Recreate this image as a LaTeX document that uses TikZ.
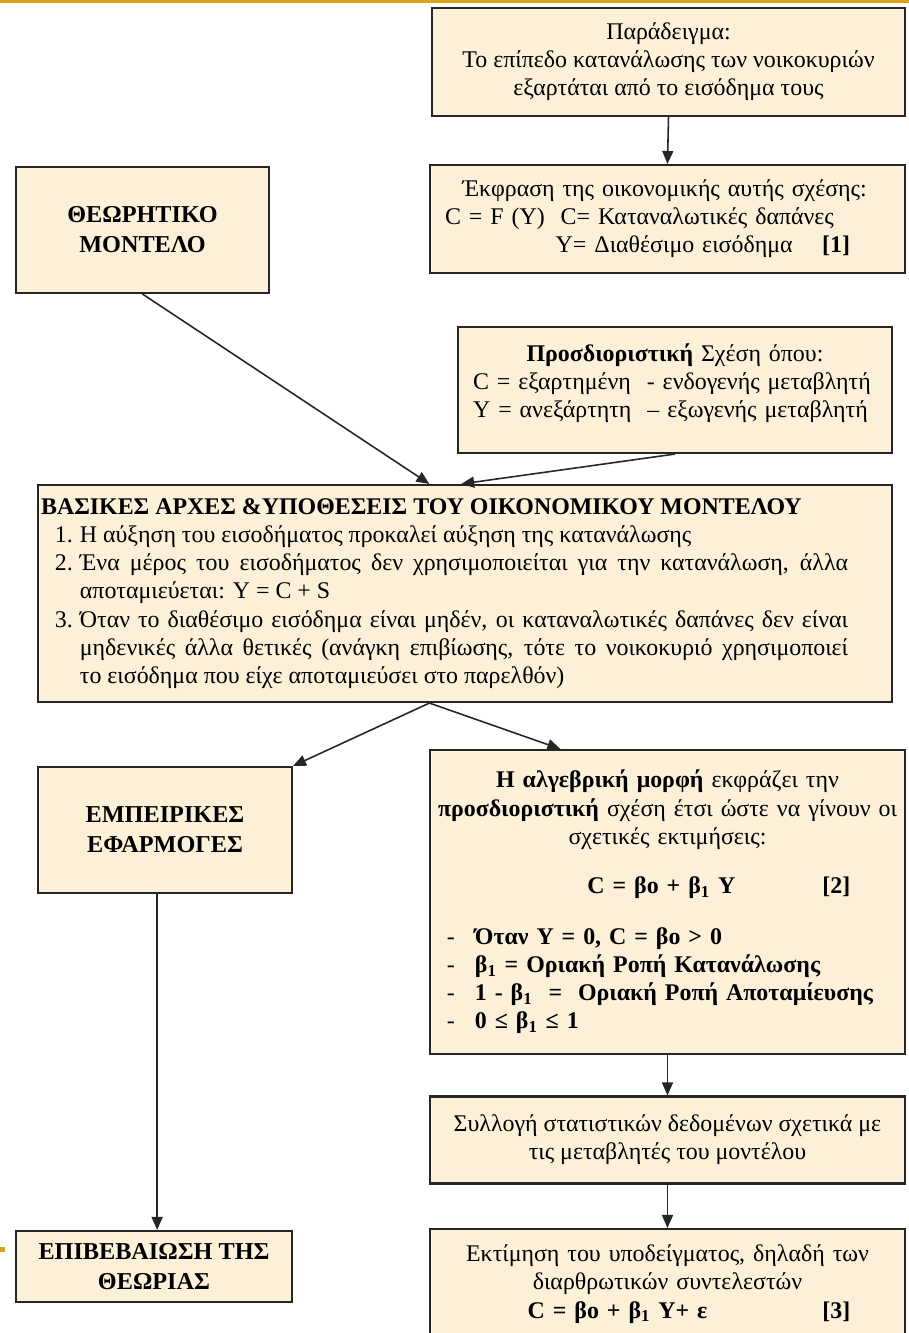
\documentclass[tikz,border=0pt]{standalone}
\usepackage{fontspec}
\setmainfont{Liberation Serif}
\definecolor{parchment}{HTML}{FCF0D9}
\definecolor{boxedge}{HTML}{262626}
\definecolor{slidegold}{HTML}{D9A514}
\usetikzlibrary{arrows.meta}
\newcommand{\ecoitem}[1]{\par\leftskip=7.9pt\hangindent=14.2pt\hangafter=1\noindent\makebox[14.2pt][l]{#1}}
\newcommand{\ecodash}{\hspace*{6.8pt}\makebox[15.9pt][l]{-}}
\newcommand{\ecotag}[2]{\hfill\textbf{[#1]}\kern#2\null}

\begin{document}
\begin{tikzpicture}[x=0.02cm,y=-0.02cm,font=\fontsize{13.6}{16}\selectfont]
        \tikzset{
            ecobox/.style={
                draw=boxedge,
                fill=parchment,
                line width=1.2pt,
                inner xsep=0.3cm,
                inner ysep=0pt,
                align=center
            },
            ecotitle/.style={
                ecobox,
                font=\fontsize{13.8}{17}\selectfont\bfseries
            },
            ecoflow/.style={
                -{Triangle[length=2.6mm,width=2.2mm]},
                draw=boxedge,
                line width=0.9pt
            }
        }
        \useasboundingbox (0,0) rectangle (909,1333);
        \fill[slidegold] (0,0) rectangle (909,3);
        \fill[slidegold] (0,1247) rectangle (5,1252);

        \node[ecobox, minimum width=9.46cm, minimum height=2.16cm] (example) at (668.5,62)
            {Παράδειγμα:\\Το επίπεδο κατανάλωσης των νοικοκυριών\\εξαρτάται από το εισόδημα τους};
        \node[ecobox, text width=8.9cm, align=left, minimum height=2.16cm] (expression) at (667.5,219)
            {\hspace*{10pt}Έκφραση της οικονομικής αυτής σχέσης:\\
             C = F (Y)\ \ C= Καταναλωτικές δαπάνες\\
             \hspace*{63pt}Y= Διαθέσιμο εισόδημα\ecotag{1}{22.7pt}};
        \node[ecotitle, minimum width=5.06cm, minimum height=2.52cm] (theory) at (142.5,230)
            {ΘΕΩΡΗΤΙΚΟ\\ΜΟΝΤΕΛΟ};

        \node[ecobox, text width=8.08cm, align=left, minimum height=2.52cm] (determ) at (675,390)
            {\hfill\textbf{Προσδιοριστική} Σχέση όπου:\hfill\null\\
             C = εξαρτημένη\ \ - ενδογενής μεταβλητή\\
             Y = ανεξάρτητη\ \ – εξωγενής μεταβλητή\\[-5pt]
             \mbox{}};

        \node[ecobox, inner xsep=0.06cm, text width=16.96cm, align=justify, minimum height=4.34cm] (principles) at (465,593.5)
            {\rightskip=23.2pt\relax
             \textbf{ΒΑΣΙΚΕΣ ΑΡΧΕΣ \&ΥΠΟΘΕΣΕΙΣ ΤΟΥ ΟΙΚΟΝΟΜΙΚΟΥ ΜΟΝΤΕΛΟΥ}
             \ecoitem{1.}Η αύξηση του εισοδήματος προκαλεί αύξηση της κατανάλωσης
             \ecoitem{2.}Ένα μέρος του εισοδήματος δεν χρησιμοποιείται για την κατανάλωση, άλλα\linebreak
              αποταμιεύεται: Y = C + S
             \ecoitem{3.}Όταν το διαθέσιμο εισόδημα είναι μηδέν, οι καταναλωτικές δαπάνες δεν είναι\linebreak
              μηδενικές άλλα θετικές (ανάγκη επιβίωσης, τότε το νοικοκυριό χρησιμοποιεί\linebreak
              το εισόδημα που είχε αποταμιεύσει στο παρελθόν)\par};

        \node[ecotitle, minimum width=5.08cm, minimum height=2.52cm] (empirical) at (165,830)
            {ΕΜΠΕΙΡΙΚΕΣ\\ΕΦΑΡΜΟΓΕΣ};
        \node[ecobox, inner xsep=0.1cm, text width=9.3cm, align=left, minimum height=6.08cm] (algebra) at (667.5,902)
            {\hfill\textbf{Η αλγεβρική μορφή} εκφράζει την\hfill\null\\
             \hfill\textbf{προσδιοριστική} σχέση έτσι ώστε να γίνουν οι\hfill\null\\
             \hfill σχετικές εκτιμήσεις:\hfill\null\\[12pt]
             \hspace*{86.7pt}\textbf{C = βο + β\textsubscript{1} Y}\ecotag{2}{28.3pt}\\[13pt]
             \ecodash\textbf{Όταν Y = 0, C = βο > 0}\\
             \ecodash\textbf{β\textsubscript{1} = Οριακή Ροπή Κατανάλωσης}\\
             \ecodash\textbf{1 - β\textsubscript{1}\ \ =\ \ Οριακή Ροπή Αποταμίευσης}\\
             \ecodash\textbf{0 ≤ β\textsubscript{1} ≤ 1}};

        \node[ecobox, inner xsep=0.1cm, minimum width=9.5cm, minimum height=1.74cm] (collect) at (667.5,1140)
            {Συλλογή στατιστικών δεδομένων σχετικά με\\τις μεταβλητές του μοντέλου};
        \node[ecobox, inner xsep=0.1cm, text width=9.3cm, align=left, minimum height=2.2cm] (estimate) at (667.5,1284)
            {\hfill Εκτίμηση του υποδείγματος, δηλαδή των\hfill\null\\
             \hfill διαρθρωτικών συντελεστών\hfill\null\\
             \hspace*{52.7pt}\textbf{C = βο + β\textsubscript{1} Y+ ε}\ecotag{3}{28.3pt}};
        \node[ecotitle, minimum width=5.52cm, minimum height=1.42cm] (confirm) at (154,1266.5)
            {ΕΠΙΒΕΒΑΙΩΣΗ ΤΗΣ\\ΘΕΩΡΙΑΣ};

        \draw[ecoflow] (example.south) -- (expression.north);
        \draw[ecoflow] (theory.south) -- (principles.108);
        \draw[ecoflow] (determ.south) -- (principles.92);
        \draw[ecoflow] (principles.252) -- (empirical.north east);
        \draw[ecoflow] (principles.252) -- (algebra.125);
        \draw[ecoflow] (empirical.263) -- (empirical.263 |- confirm.north);
        \draw[ecoflow] (algebra.south) -- (collect.north);
        \draw[ecoflow] (collect.south) -- (estimate.north);
\end{tikzpicture}
\end{document}
